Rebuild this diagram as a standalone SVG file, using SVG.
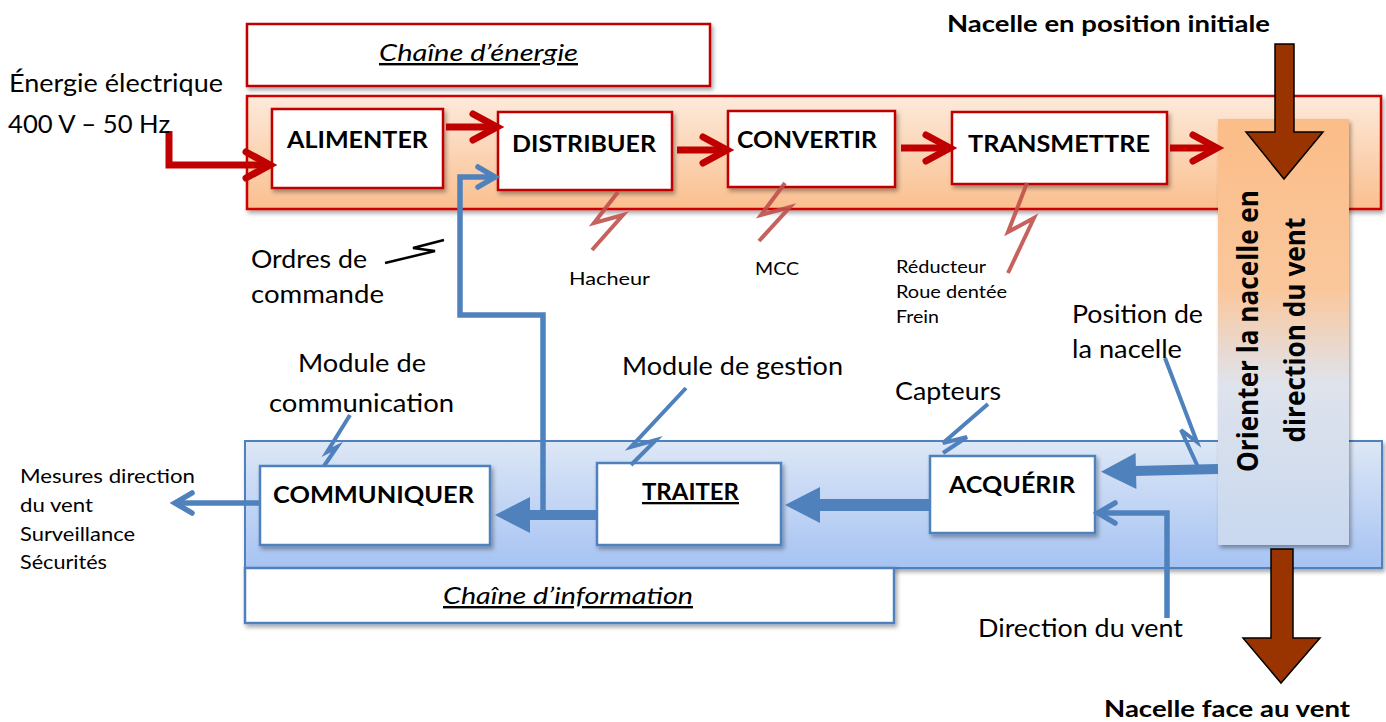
<svg xmlns="http://www.w3.org/2000/svg" width="1386" height="722" viewBox="0 0 1386 722">
<style>
text{font-family:Lato,"Liberation Sans",sans-serif;fill:#000}
.t25{font-size:25px}
.t18{font-size:18px}
.t20{font-size:20px}
.b{font-weight:bold;font-size:23px}
.ti{font-style:italic;font-size:24px;text-decoration:underline}
.ebox{fill:#fff;stroke:#c00000;stroke-width:2.5}
.ibox{fill:#fff;stroke:#4f81bd;stroke-width:2.5}
.red{fill:none;stroke:#c00000;stroke-width:7}
.blue{fill:none;stroke:#4f81bd;stroke-width:5.5}
.thick{fill:none;stroke:#4f81bd}
.rbolt{fill:none;stroke:#c0504d;stroke-width:4;opacity:.9}
.bbolt{fill:none;stroke:#4f81bd;stroke-width:4}
.brown{fill:#993300;stroke:#000;stroke-width:1.5}
</style>
<defs>
<filter id="sh" x="-10%" y="-10%" width="130%" height="130%">
<feDropShadow dx="2" dy="3" stdDeviation="2" flood-color="#000" flood-opacity="0.35"/>
</filter>
<linearGradient id="gOr" x1="0" y1="0" x2="0" y2="1">
<stop offset="0" stop-color="#fdeadb"/><stop offset="1" stop-color="#fabf8f"/>
</linearGradient>
<linearGradient id="gBl" x1="0" y1="0" x2="0" y2="1">
<stop offset="0" stop-color="#dde7f6"/><stop offset="1" stop-color="#a6c3f3"/>
</linearGradient>
<linearGradient id="gOri" x1="0" y1="0" x2="0" y2="1">
<stop offset="0" stop-color="#fbbd88"/><stop offset="0.4" stop-color="#fac79c"/><stop offset="0.62" stop-color="#dfe3ec"/><stop offset="1" stop-color="#c8d8ef"/>
</linearGradient>
<marker id="rHead" markerUnits="userSpaceOnUse" markerWidth="40" markerHeight="40" refX="30" refY="20" orient="auto" overflow="visible">
<path d="M6,7 L30,20 L6,33" fill="none" stroke="#c00000" stroke-width="7" stroke-linecap="round"/>
</marker>
<marker id="bHead" markerUnits="userSpaceOnUse" markerWidth="30" markerHeight="30" refX="20" refY="15" orient="auto" overflow="visible">
<path d="M3,5 L20,15 L3,25" fill="none" stroke="#4f81bd" stroke-width="5.5" stroke-linecap="round"/>
</marker>
<marker id="tHead" markerUnits="userSpaceOnUse" markerWidth="40" markerHeight="40" refX="2" refY="18" orient="auto" overflow="visible">
<path d="M0,0 L35,18 L0,36 Z" fill="#4f81bd"/>
</marker>
</defs>

<g id="energy-band"><rect x="247" y="96" width="1134" height="113" fill="url(#gOr)" stroke="#d00000" stroke-width="2.5" filter="url(#sh)"/></g>
<g id="info-band"><rect x="245" y="441" width="1137" height="127" fill="url(#gBl)" stroke="#4f81bd" stroke-width="2" filter="url(#sh)"/></g>

<g id="energy-title"><rect x="247" y="24" width="463" height="62" class="ebox" filter="url(#sh)"/>
<text x="379" y="61" class="ti" textLength="199" lengthAdjust="spacingAndGlyphs">Chaîne d’énergie</text></g>
<g id="info-title"><rect x="245" y="568" width="649" height="55" class="ibox" filter="url(#sh)"/>
<text x="443" y="604" class="ti" textLength="250" lengthAdjust="spacingAndGlyphs">Chaîne d’information</text></g>

<g id="orienter"><rect x="1218" y="119" width="131" height="426" fill="url(#gOri)" filter="url(#sh)"/>
<text transform="translate(1258,331) rotate(-90)" text-anchor="middle" style="font-family:'Open Sans',Lato,sans-serif;font-weight:bold;font-size:28px" textLength="282" lengthAdjust="spacingAndGlyphs">Orienter la nacelle en</text>
<text transform="translate(1305,330) rotate(-90)" text-anchor="middle" style="font-family:'Open Sans',Lato,sans-serif;font-weight:bold;font-size:28px" textLength="225" lengthAdjust="spacingAndGlyphs">direction du vent</text></g>

<g id="alimenter"><rect x="272" y="109" width="171" height="79" class="ebox" filter="url(#sh)"/>
<text x="287" y="148" class="b" textLength="141" lengthAdjust="spacingAndGlyphs">ALIMENTER</text></g>
<g id="distribuer"><rect x="498" y="112" width="174" height="78" class="ebox" filter="url(#sh)"/>
<text x="512" y="152" class="b" textLength="144" lengthAdjust="spacingAndGlyphs">DISTRIBUER</text></g>
<g id="convertir"><rect x="728" y="111" width="167" height="76" class="ebox" filter="url(#sh)"/>
<text x="737" y="148" class="b" textLength="140" lengthAdjust="spacingAndGlyphs">CONVERTIR</text></g>
<g id="transmettre"><rect x="952" y="112" width="215" height="72" class="ebox" filter="url(#sh)"/>
<text x="968" y="152" class="b" textLength="182" lengthAdjust="spacingAndGlyphs">TRANSMETTRE</text></g>

<g id="communiquer"><rect x="260" y="466" width="230" height="79" class="ibox" filter="url(#sh)"/>
<text x="273" y="503" class="b" textLength="201" lengthAdjust="spacingAndGlyphs">COMMUNIQUER</text></g>
<g id="traiter"><rect x="597" y="463" width="184" height="82" class="ibox" filter="url(#sh)"/>
<text x="642" y="500" class="b" text-decoration="underline" textLength="97" lengthAdjust="spacingAndGlyphs">TRAITER</text></g>
<g id="acquerir"><rect x="930" y="456" width="165" height="77" class="ibox" filter="url(#sh)"/>
<text x="949" y="493" class="b" textLength="126" lengthAdjust="spacingAndGlyphs">ACQUÉRIR</text></g>

<g id="connectors">
<path class="red" d="M169,131 L169,165 L270,165" marker-end="url(#rHead)"/>
<path class="red" d="M446,127 L497,127" marker-end="url(#rHead)"/>
<path class="red" d="M677,150 L727,150" marker-end="url(#rHead)"/>
<path class="red" d="M901,148 L950,148" marker-end="url(#rHead)"/>
<path class="red" d="M1170,148 L1217,148" marker-end="url(#rHead)"/>
<path class="blue" d="M543,515 L543,315 L460,315 L460,177 L495,177" marker-end="url(#bHead)"/>
<path class="blue" d="M259,503 L175,503" marker-end="url(#bHead)"/>
<path class="blue" d="M1167,618 L1167,513 L1098,513" marker-end="url(#bHead)"/>
<path class="thick" stroke-width="12" d="M930,505 L818,505" marker-end="url(#tHead)"/>
<path class="thick" stroke-width="10" d="M597,515 L528,515" marker-end="url(#tHead)"/>
<path class="thick" stroke-width="10" d="M1218,469 L1134,471" marker-end="url(#tHead)"/>
<polygon class="brown" points="1275,44 1294,44 1294,132 1323,132 1284,179 1246,132 1275,132"/>
<polygon class="brown" points="1271,549 1293,549 1293,638 1320,638 1281,683 1243,638 1271,638"/>
<polyline class="rbolt" points="618,192 594,223 623,215 592,250"/>
<polyline class="rbolt" points="785,183 761,215 790,207 759,241"/>
<polyline class="rbolt" points="1027,183 1008,232 1034,218 1008,273"/>
<polyline fill="none" stroke="#000" stroke-width="2.5" points="385,263 435,251 413,248 444,240"/>
<polyline class="bbolt" points="350,415 327,452 337,447 324,466"/>
<polyline class="bbolt" points="686,388 631,447 656,440 631,465"/>
<polyline class="bbolt" points="988,404 943,443 967,437 943,453"/>
<polyline class="bbolt" points="1165,358 1197,442 1181,430 1198,467"/>
</g>

<g id="labels">
<text x="9" y="92" class="t25" textLength="214" lengthAdjust="spacingAndGlyphs">Énergie électrique</text>
<text x="8" y="133" class="t25" textLength="162" lengthAdjust="spacingAndGlyphs">400 V – 50 Hz</text>
<text x="947" y="32" class="b" textLength="323" lengthAdjust="spacingAndGlyphs">Nacelle en position initiale</text>
<text x="569" y="285" class="t18" textLength="81" lengthAdjust="spacingAndGlyphs">Hacheur</text>
<text x="755" y="275" class="t18" textLength="44" lengthAdjust="spacingAndGlyphs">MCC</text>
<text x="896" y="273" class="t18" textLength="90" lengthAdjust="spacingAndGlyphs">Réducteur</text>
<text x="896" y="298" class="t18" textLength="111" lengthAdjust="spacingAndGlyphs">Roue dentée</text>
<text x="896" y="323" class="t18" textLength="43" lengthAdjust="spacingAndGlyphs">Frein</text>
<text x="251" y="268" class="t25" textLength="116" lengthAdjust="spacingAndGlyphs">Ordres de</text>
<text x="251" y="303" class="t25" textLength="133" lengthAdjust="spacingAndGlyphs">commande</text>
<text x="1072" y="323" class="t25" textLength="131" lengthAdjust="spacingAndGlyphs">Position de</text>
<text x="1072" y="358" class="t25" textLength="110" lengthAdjust="spacingAndGlyphs">la nacelle</text>
<text x="298" y="372" class="t25" textLength="128" lengthAdjust="spacingAndGlyphs">Module de</text>
<text x="269" y="412" class="t25" textLength="185" lengthAdjust="spacingAndGlyphs">communication</text>
<text x="622" y="375" class="t25" textLength="221" lengthAdjust="spacingAndGlyphs">Module de gestion</text>
<text x="895" y="400" class="t25" textLength="106" lengthAdjust="spacingAndGlyphs">Capteurs</text>
<text x="20" y="483" class="t20" textLength="175" lengthAdjust="spacingAndGlyphs">Mesures direction</text>
<text x="20" y="512" class="t20" textLength="73" lengthAdjust="spacingAndGlyphs">du vent</text>
<text x="20" y="541" class="t20" textLength="115" lengthAdjust="spacingAndGlyphs">Surveillance</text>
<text x="20" y="569" class="t20" textLength="87" lengthAdjust="spacingAndGlyphs">Sécurités</text>
<text x="978" y="637" class="t25" textLength="205" lengthAdjust="spacingAndGlyphs">Direction du vent</text>
<text x="1104" y="717" class="b" textLength="246" lengthAdjust="spacingAndGlyphs">Nacelle face au vent</text>
</g>
</svg>
